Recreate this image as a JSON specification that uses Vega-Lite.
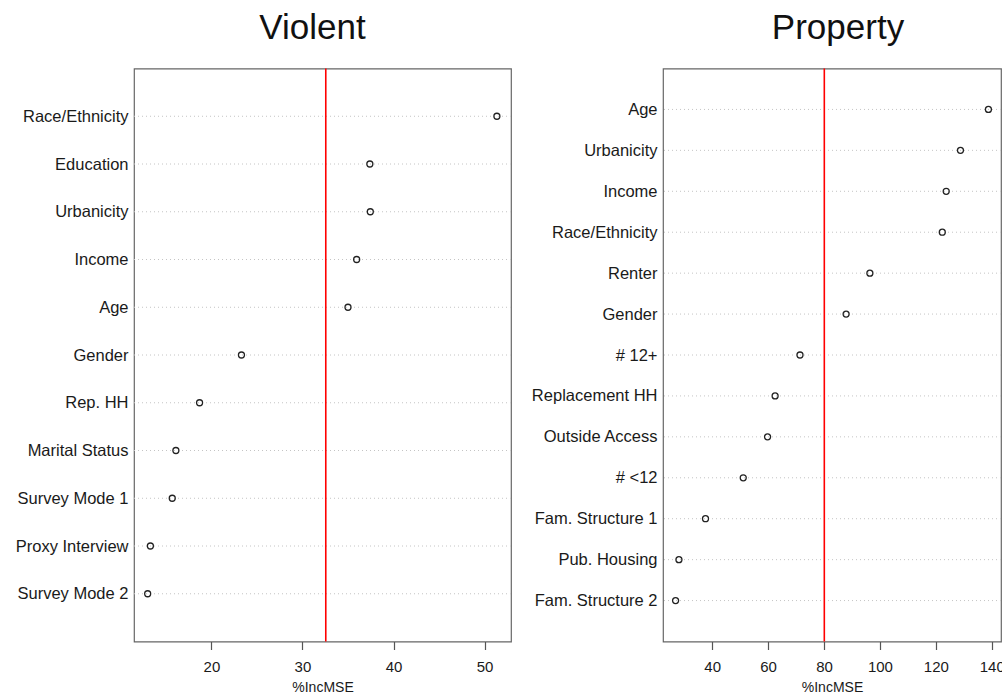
{
  "$schema": "https://vega.github.io/schema/vega-lite/v6.json",
  "background": "white",
  "padding": {"left": 0, "top": 10.5, "right": 0, "bottom": 0},
  "spacing": 10,
  "config": {
    "font": "Liberation Sans",
    "view": {"stroke": "#666666", "strokeWidth": 1.2},
    "title": {"fontSize": 35, "fontWeight": "normal", "color": "#111111", "anchor": "middle", "baseline": "alphabetic", "offset": 21.5},
    "axisY": {
      "ticks": false, "domain": false, "grid": false, "title": null,
      "labelFontSize": 16.5, "labelColor": "#1a1a1a", "labelPadding": 6, "labelLimit": 200
    },
    "axisX": {
      "domain": false, "grid": false, "tickSize": 8, "tickColor": "#555555", "tickWidth": 1.2,
      "labelFontSize": 15, "labelColor": "#1a1a1a", "labelPadding": 10,
      "titleFontSize": 14, "titleFontWeight": "normal", "titleColor": "#1a1a1a",
      "titleBaseline": "top", "titleY": 39
    }
  },
  "hconcat": [
    {
      "title": {"text": "Violent", "dx": -10},
      "width": 377,
      "height": 573,
      "layer": [
        {
          "data": {"name": "violent"},
          "mark": {"type": "rule", "color": "#c4c4c4", "strokeDash": [1, 3], "strokeWidth": 1},
          "encoding": {
            "y": {"field": "predictor", "type": "nominal", "sort": null, "scale": {"type": "point", "padding": 1},
                  "axis": {"minExtent": 133, "maxExtent": 133}}
          }
        },
        {
          "data": {"values": [{"cutoff": 32.56}]},
          "mark": {"type": "rule", "color": "#ff0000", "strokeWidth": 1.6},
          "encoding": {"x": {"field": "cutoff", "type": "quantitative"}}
        },
        {
          "data": {"name": "violent"},
          "mark": {"type": "point", "shape": "circle", "filled": false, "color": "#222222", "size": 36, "strokeWidth": 1.3, "opacity": 1},
          "encoding": {
            "x": {"field": "incMSE", "type": "quantitative",
                  "scale": {"domain": [11.5, 52.9], "nice": false, "zero": false},
                  "axis": {"values": [20, 30, 40, 50], "title": "%IncMSE"}},
            "y": {"field": "predictor", "type": "nominal", "sort": null}
          }
        }
      ]
    },
    {
      "title": {"text": "Property", "dx": 6},
      "width": 338,
      "height": 573,
      "layer": [
        {
          "data": {"name": "property"},
          "mark": {"type": "rule", "color": "#c4c4c4", "strokeDash": [1, 3], "strokeWidth": 1},
          "encoding": {
            "y": {"field": "predictor", "type": "nominal", "sort": null, "scale": {"type": "point", "padding": 1},
                  "axis": {"minExtent": 139, "maxExtent": 139}}
          }
        },
        {
          "data": {"values": [{"cutoff": 80.1}]},
          "mark": {"type": "rule", "color": "#ff0000", "strokeWidth": 1.6},
          "encoding": {"x": {"field": "cutoff", "type": "quantitative"}}
        },
        {
          "data": {"name": "property"},
          "mark": {"type": "point", "shape": "circle", "filled": false, "color": "#222222", "size": 36, "strokeWidth": 1.3, "opacity": 1},
          "encoding": {
            "x": {"field": "incMSE", "type": "quantitative",
                  "scale": {"domain": [22.4, 143.3], "nice": false, "zero": false},
                  "axis": {"values": [40, 60, 80, 100, 120, 140], "title": "%IncMSE"}},
            "y": {"field": "predictor", "type": "nominal", "sort": null}
          }
        }
      ]
    }
  ],
  "datasets": {
    "violent": [
      {"predictor": "Race/Ethnicity", "incMSE": 51.35},
      {"predictor": "Education", "incMSE": 37.4},
      {"predictor": "Urbanicity", "incMSE": 37.45},
      {"predictor": "Income", "incMSE": 35.95},
      {"predictor": "Age", "incMSE": 35.0},
      {"predictor": "Gender", "incMSE": 23.3},
      {"predictor": "Rep. HH", "incMSE": 18.7},
      {"predictor": "Marital Status", "incMSE": 16.1},
      {"predictor": "Survey Mode 1", "incMSE": 15.7},
      {"predictor": "Proxy Interview", "incMSE": 13.3},
      {"predictor": "Survey Mode 2", "incMSE": 13.0}
    ],
    "property": [
      {"predictor": "Age", "incMSE": 138.8},
      {"predictor": "Urbanicity", "incMSE": 128.8},
      {"predictor": "Income", "incMSE": 123.7},
      {"predictor": "Race/Ethnicity", "incMSE": 122.3},
      {"predictor": "Renter", "incMSE": 96.4},
      {"predictor": "Gender", "incMSE": 87.9},
      {"predictor": "# 12+", "incMSE": 71.4},
      {"predictor": "Replacement HH", "incMSE": 62.5},
      {"predictor": "Outside Access", "incMSE": 59.8},
      {"predictor": "# <12", "incMSE": 51.1},
      {"predictor": "Fam. Structure 1", "incMSE": 37.6},
      {"predictor": "Pub. Housing", "incMSE": 28.1},
      {"predictor": "Fam. Structure 2", "incMSE": 26.9}
    ]
  }
}
